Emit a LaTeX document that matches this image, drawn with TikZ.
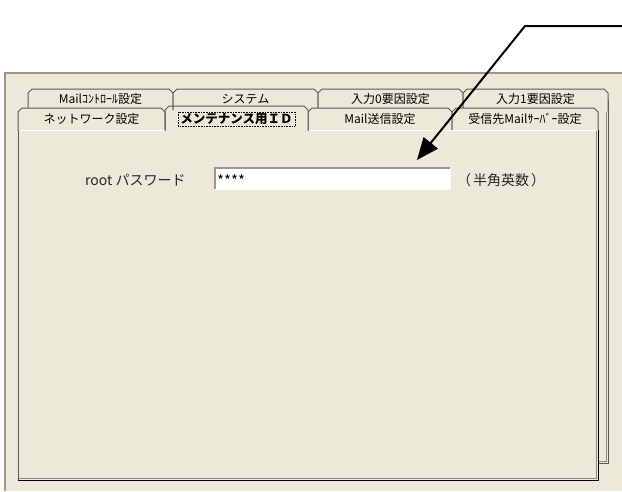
\documentclass[tikz,border=0pt]{standalone}
\usepackage{fontspec}
\setmainfont{Noto Sans CJK JP}
\usetikzlibrary{arrows.meta}
\definecolor{winbg}{HTML}{ECE9D8}
\definecolor{tabedge}{HTML}{5A5A55}
\definecolor{frameg}{HTML}{9A9890}
\definecolor{shadowg}{HTML}{8C8A80}
\tikzset{
  tabbox/.style={draw=tabedge, fill=winbg, line width=1pt, line join=round},
  tablabel/.style={inner sep=0pt, font=\fontsize{12}{14}\selectfont, text=black},
  paneltext/.style={inner sep=0pt, font=\fontsize{14}{16}\selectfont, text=black!85},
  arrowline/.style={line width=2pt, -{Triangle[length=22pt,width=18pt]}}
}
\begin{document}
\begin{tikzpicture}[x=1pt,y=-1pt]
\useasboundingbox (0,0) rectangle (622,491);
\fill[white] (0,0) rectangle (622,491);
% window
\fill[winbg] (5,73) rectangle (622,491);
\draw[frameg, line width=1.5pt] (5,491) -- (5,73) -- (622,73);
% back panel edge
\draw[tabedge, line width=1pt] (608,100) -- (608,463) -- (598,463);
\draw[shadowg, line width=0.8pt] (606.5,110) -- (606.5,461.5) -- (598,461.5);
% row 1 tabs
\foreach \a/\b/\t [count=\i] in {28/173/Mailｺﾝﾄﾛｰﾙ設定, 173/318/システム, 318/463/入力0要因設定, 463/608/入力1要因設定} {
  \filldraw[tabbox] (\a,112) -- (\a,93) -- (\a+4,89) -- (\b-4,89) -- (\b,93) -- (\b,112);
  \node[tablabel] (ra\i) at ({(\a+\b)/2},99) {\t};
}
% row 2 tabs (unselected)
\foreach \a/\b/\t [count=\i] in {18/165/ネットワーク設定, 308/452/Mail送信設定, 452/598/受信先Mailｻｰﾊﾞｰ設定} {
  \filldraw[tabbox] (\a,131) -- (\a,112) -- (\a+4,108) -- (\b-4,108) -- (\b,112) -- (\b,131);
  \node[tablabel] (rb\i) at ({(\a+\b)/2},119) {\t};
}
% front panel
\fill[winbg] (18,130) rectangle (598,480);
\draw[white, line width=1pt] (18.5,130.5) -- (597,130.5);
\draw[tabedge, line width=1pt] (18,480) -- (18,130);
\draw[shadowg, line width=1pt] (19,478.5) -- (596.5,478.5) -- (596.5,131);
\draw[black, line width=1pt] (18,480) -- (598,480) -- (598,130);
% selected tab
\fill[winbg] (165.5,110) rectangle (307.5,131.5);
\draw[tabbox, fill=none] (165,131) -- (165,110) -- (169,106) -- (304,106) -- (308,110) -- (308,131);
\node[tablabel, font=\fontsize{12.5}{14}\selectfont\bfseries] (sel) at (236.5,119) {メンテナンス用ＩＤ};
\draw[black, densely dotted, line width=0.6pt] (178,112) rectangle (295,126);
% content
\node[paneltext, anchor=west] (lbl) at (85,180) {root パスワード};
\node[draw=none, fill=white, minimum width=235pt, minimum height=21pt, inner sep=0pt, anchor=north west] (box) at (215,168) {};
\draw[frameg, line width=1.5pt] (box.south west) -- (box.north west) -- (box.north east);
\draw[white!90!winbg, line width=1pt] (box.north east) -- (box.south east) -- (box.south west);
\node[inner sep=0pt, anchor=west, font=\fontsize{15}{16}\selectfont] (pw) at (217,181) {****};
\node[paneltext, anchor=west] (hint) at (457,180) {（\hspace{2pt}半角英数\hspace{2pt}）};
% callout arrow
\coordinate (ls) at (622,26);
\coordinate (lk) at (525,26);
\coordinate (lt) at (417,160);
\draw[arrowline] (ls) -- (lk) -- (lt);
\end{tikzpicture}
\end{document}
